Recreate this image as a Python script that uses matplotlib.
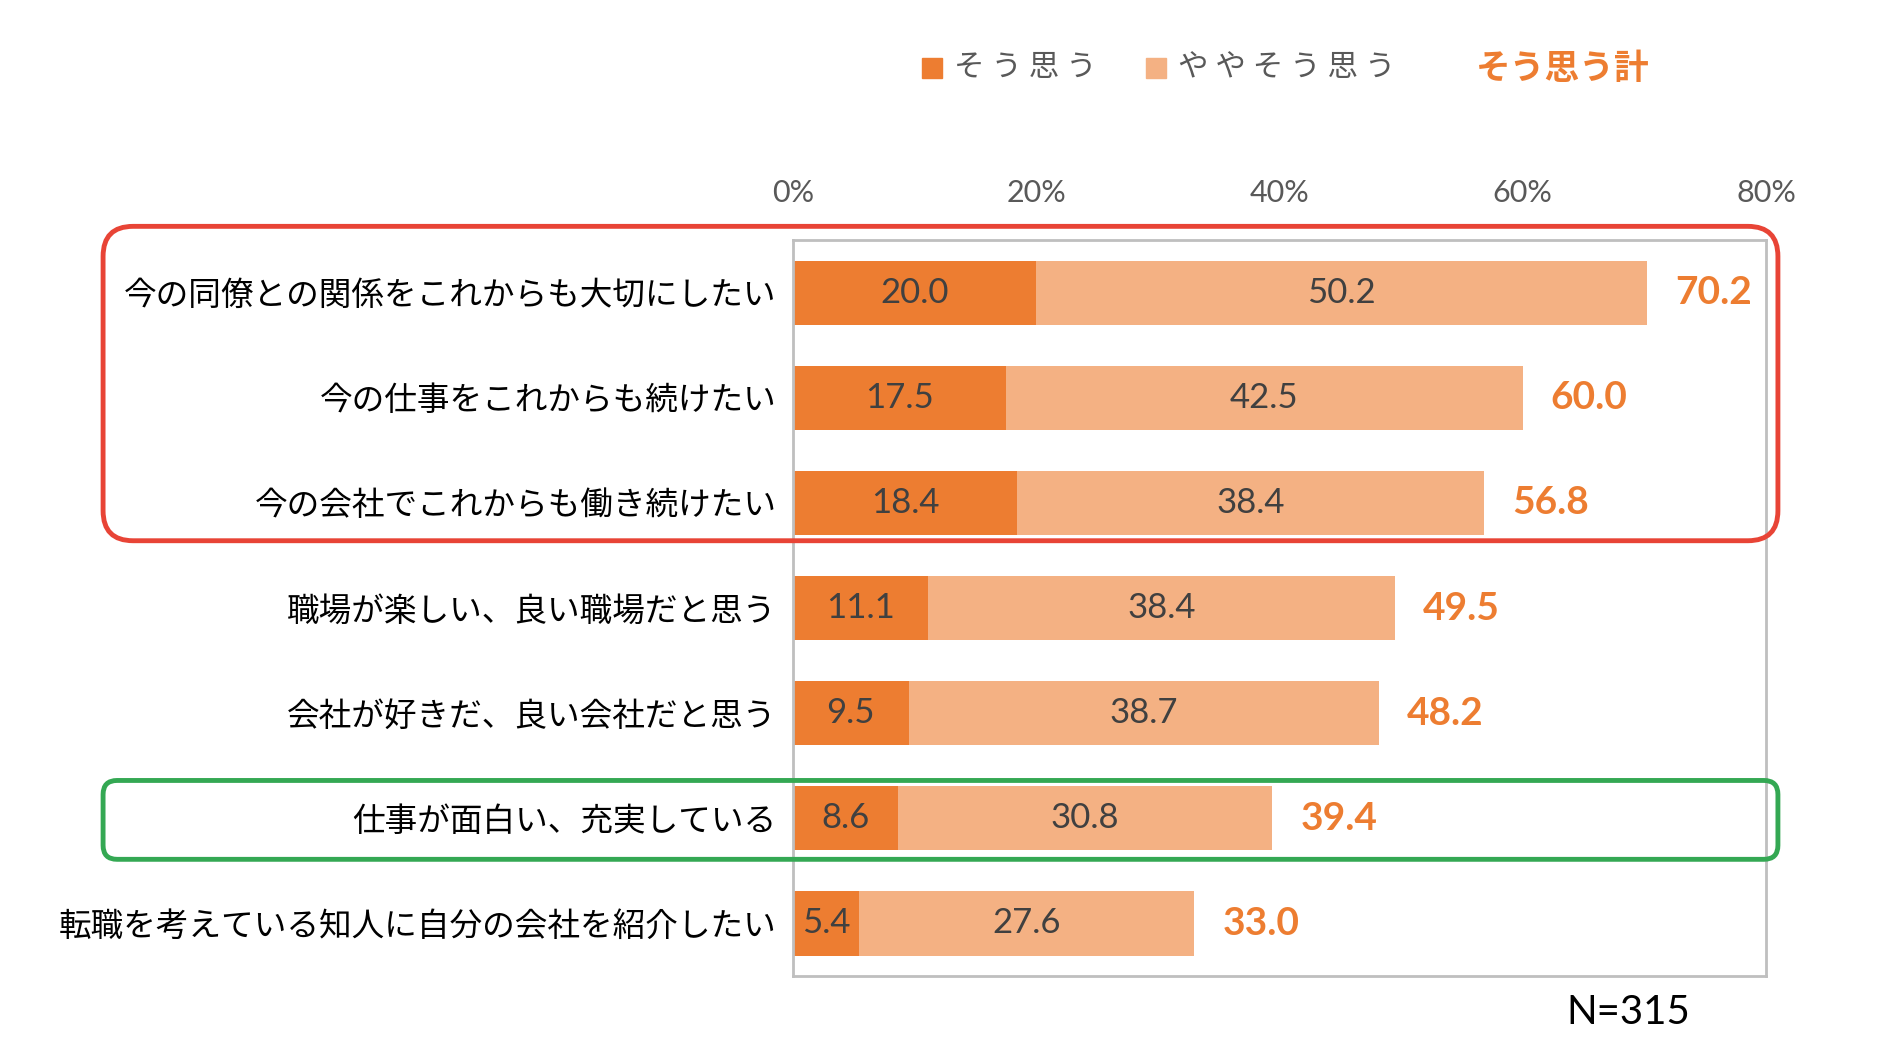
import matplotlib.pyplot as plt
from matplotlib.patches import FancyBboxPatch, Rectangle
from matplotlib.transforms import IdentityTransform
import numpy as np

plt.rcParams['font.family'] = ['Noto Sans CJK JP', 'DejaVu Sans']

categories = ['今の同僚との関係をこれからも大切にしたい', '今の仕事をこれからも続けたい',
              '今の会社でこれからも働き続けたい', '職場が楽しい、良い職場だと思う',
              '会社が好きだ、良い会社だと思う', '仕事が面白い、充実している',
              '転職を考えている知人に自分の会社を紹介したい']
sou = [20.0, 17.5, 18.4, 11.1, 9.5, 8.6, 5.4]
yaya = [50.2, 42.5, 38.4, 38.4, 38.7, 30.8, 27.6]
total = [70.2, 60.0, 56.8, 49.5, 48.2, 39.4, 33.0]
ticks = [0, 20, 40, 60, 80]

c_dark = '#ED7D31'
c_light = '#F4B183'
c_text = '#404040'
num_font = ['Lato', 'DejaVu Sans']

fig = plt.figure(figsize=(18.81, 10.44), dpi=100)
ax = fig.add_axes([0.4216, 0.0651, 0.5173, 0.705])

y = np.arange(len(categories))
ax.barh(y, sou, height=0.61, color=c_dark)
ax.barh(y, yaya, left=sou, height=0.61, color=c_light)

for i in range(len(categories)):
    ax.text(sou[i] / 2, y[i], f'{sou[i]:.1f}', ha='center', va='center',
            fontsize=25, color=c_text, family=num_font)
    ax.text(sou[i] + yaya[i] / 2, y[i], f'{yaya[i]:.1f}', ha='center', va='center',
            fontsize=25, color=c_text, family=num_font)
    ax.text(total[i] + 2.3, y[i], f'{total[i]:.1f}', ha='left', va='center',
            fontsize=28, color=c_dark, fontweight='bold', family=num_font)

ax.set_xlim(0, 80)
ax.set_ylim(len(categories) - 0.5, -0.5)
ax.set_xticks(ticks)
ax.set_xticklabels([f'{t}%' for t in ticks], fontsize=22, color='#595959', family=num_font)
ax.xaxis.tick_top()
ax.tick_params(axis='x', length=0, pad=24)
ax.set_yticks(y)
ax.set_yticklabels(categories, fontsize=23.5, color='black')
ax.tick_params(axis='y', length=0, pad=12)
for s in ax.spines.values():
    s.set_color('#BFBFBF')
    s.set_linewidth(2)


# highlight boxes, drawn in pixels around the rows they mark
def highlight(first, last, pad_top, pad_bottom, color, radius):
    W = fig.get_figwidth() * fig.dpi
    x0, x1 = 0.0548 * W, 0.9452 * W
    ytop = ax.transData.transform((0, first - pad_top))[1]
    ybot = ax.transData.transform((0, last + pad_bottom))[1]
    box = FancyBboxPatch((x0, ybot), x1 - x0, ytop - ybot,
                         boxstyle=f'round,pad=0,rounding_size={radius}',
                         transform=IdentityTransform(), fill=False,
                         edgecolor=color, linewidth=3.5, figure=fig)
    fig.patches.append(box)


highlight(0, 2, 0.63, 0.36, '#E84436', 30)
highlight(5, 5, 0.36, 0.39, '#34A853', 14)

# legend
ly = 1 - 68 / 1044
fig.patches.append(Rectangle((922 / 1881, ly - 0.0095), 20 / 1881, 0.019, color=c_dark,
                             transform=fig.transFigure, figure=fig))
fig.text(954 / 1881, ly, 'そ う 思 う', fontsize=22, color='#595959', va='center')
fig.patches.append(Rectangle((1146 / 1881, ly - 0.0095), 20 / 1881, 0.019, color=c_light,
                             transform=fig.transFigure, figure=fig))
fig.text(1178 / 1881, ly, 'や や そ う 思 う', fontsize=22, color='#595959', va='center')
fig.text(1476 / 1881, ly, 'そう思う計', fontsize=25, color=c_dark, fontweight='bold', va='center')

fig.text(1690 / 1881, 1 - 1012 / 1044, 'N=315', fontsize=29, color='black',
         ha='right', va='center', family=num_font)

fig.savefig('out.png', dpi=100)
